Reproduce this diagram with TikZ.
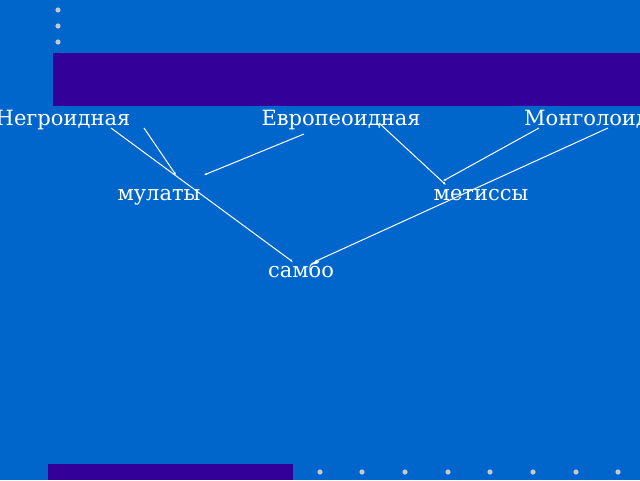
\documentclass[tikz,border=0pt]{standalone}
\usepackage{fontspec}
\setmainfont{DejaVu Serif}
\usetikzlibrary{arrows.meta}
\definecolor{bgblue}{HTML}{0066CC}
\definecolor{barpurple}{HTML}{330099}
\definecolor{dotgray}{HTML}{C8C8C8}
\begin{document}
\begin{tikzpicture}[x=1pt,y=-1pt,
  lbl/.style={text=white,font=\fontsize{21}{25}\selectfont,inner sep=0pt,anchor=base},
  link/.style={draw=white,line width=1pt,-{Latex[length=3pt,width=2.5pt]}},
  dotmark/.style={fill=dotgray,draw=none},
  bar/.style={fill=barpurple,draw=none}]
\useasboundingbox (0,0) rectangle (640,480);
\clip (0,0) rectangle (640,480);
\fill[bgblue] (0,0) rectangle (640,480);
% top bar and dots
\path[bar] (53,53) rectangle (640,106);
\foreach \yy in {10,26,42} \path[dotmark] (58,\yy) circle (2.6);
% bottom bar and dots
\path[bar] (48,464) rectangle (293,480);
\foreach \xx in {320,362,405,448,490,533,576,618} \path[dotmark] (\xx,472) circle (2.6);
% labels
\node[lbl] (neg) at (63,125) {Негроидная};
\node[lbl] (evr) at (341,125) {Европеоидная};
\node[lbl,anchor=base west] (mon) at (524,125) {Монголоидная};
\node[lbl] (mul) at (159,200) {мулаты};
\node[lbl] (met) at (481,200) {метиссы};
\node[lbl] (sam) at (301,277) {самбо};
% connector ends
\coordinate (negA) at (111,128);
\coordinate (negB) at (144,128);
\coordinate (evrA) at (304,134);
\coordinate (evrB) at (379,123);
\coordinate (monA) at (539,128);
\coordinate (monB) at (608,128);
\coordinate (mulA) at (176,175);
\coordinate (mulB) at (204,175);
\coordinate (metA) at (446,185);
\coordinate (metB) at (443,181);
\coordinate (samA) at (293,262);
\coordinate (samB) at (314,262);
% connectors
\draw[link] (negA) -- (samA);
\draw[link] (negB) -- (mulA);
\draw[link] (evrA) -- (mulB);
\draw[link] (evrB) -- (metA);
\draw[link] (monA) -- (metB);
\draw[link] (monB) -- (samB);
\end{tikzpicture}
\end{document}
